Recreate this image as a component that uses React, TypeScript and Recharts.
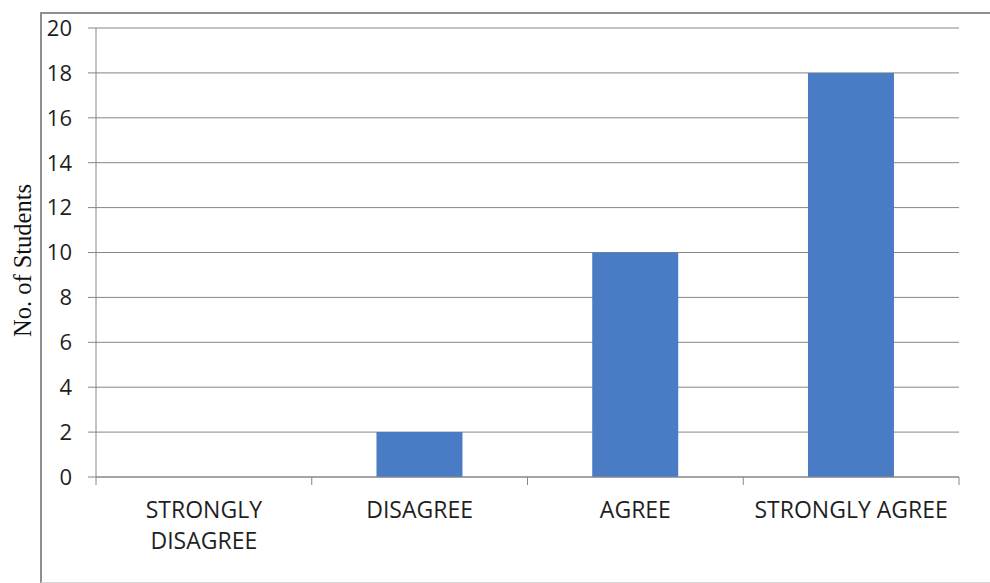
import React from 'react';
import { BarChart, Bar, XAxis, YAxis, CartesianGrid, Label } from 'recharts';

// Survey responses
const categories = ['STRONGLY DISAGREE', 'DISAGREE', 'AGREE', 'STRONGLY AGREE'];
const categoryLines = [['STRONGLY', 'DISAGREE'], ['DISAGREE'], ['AGREE'], ['STRONGLY AGREE']];
const students = [0, 2, 10, 18];
const yTicks = [0, 2, 4, 6, 8, 10, 12, 14, 16, 18, 20];

const data = categories.map((name, i) => ({ name, students: students[i] }));

const AXIS_COLOR = '#868686';
const TEXT_COLOR = '#1f1f1f';
const FONT = '"Open Sans", "Noto Sans", sans-serif';

const CategoryTick = (props: any) => {
  const { x, y, payload, index, visibleTicksCount, width } = props;
  const count = visibleTicksCount || categories.length;
  const half = payload && typeof payload.offset === 'number' && payload.offset > 0
    ? payload.offset
    : width / count / 2;
  const lines = categoryLines[index] || [String(payload.value)];
  return (
    <g>
      <line x1={x - half} x2={x - half} y1={y} y2={y + 8} stroke={AXIS_COLOR} strokeWidth={1} />
      {index === count - 1 && (
        <line x1={x + half} x2={x + half} y1={y} y2={y + 8} stroke={AXIS_COLOR} strokeWidth={1} />
      )}
      <text x={x} y={y + 41} textAnchor="middle" fill={TEXT_COLOR} fontFamily={FONT} fontSize={23}>
        {lines.map((l, i) => (
          <tspan key={i} x={x} dy={i === 0 ? 0 : 31}>{l}</tspan>
        ))}
      </text>
    </g>
  );
};

const YTitle = (props: any) => {
  const vb = props.viewBox || { x: 36, y: 28, height: 449 };
  const cx = vb.x - 14;
  const cy = vb.y + vb.height / 2 + 8;
  return (
    <text
      x={cx}
      y={cy}
      transform={`rotate(-90, ${cx}, ${cy})`}
      textAnchor="middle"
      dominantBaseline="central"
      fill="#111"
      fontFamily='"Liberation Serif", "Times New Roman", serif'
      fontSize={24.5}
    >
      No. of Students
    </text>
  );
};

export default function App() {
  return (
    <div style={{ position: 'absolute', left: 0, top: 0, width: 990, height: 583, overflow: 'hidden', background: '#fff' }}>
      <div
        style={{
          position: 'absolute',
          left: 40,
          top: 12,
          width: 980,
          height: 568,
          borderLeft: '2px solid #8f8f8f',
          borderTop: '2px solid #8f8f8f',
          borderBottom: '1px solid #d8d8d8',
        }}
      />
      <BarChart
        width={990}
        height={583}
        data={data}
        margin={{ top: 28, right: 31, left: 36, bottom: 46 }}
        barCategoryGap="30%"
        style={{ position: 'absolute', left: 0, top: 0 }}
      >
        <CartesianGrid vertical={false} stroke={AXIS_COLOR} strokeWidth={1} />
        <XAxis
          dataKey="name"
          height={60}
          axisLine={{ stroke: AXIS_COLOR, strokeWidth: 1 }}
          tickLine={false}
          tickSize={0}
          tickMargin={0}
          interval={0}
          tick={<CategoryTick />}
        />
        <YAxis
          width={60}
          domain={[0, 20]}
          ticks={yTicks}
          interval={0}
          tickSize={8}
          tickMargin={16}
          axisLine={{ stroke: AXIS_COLOR, strokeWidth: 1 }}
          tickLine={{ stroke: AXIS_COLOR, strokeWidth: 1 }}
          tick={{ fill: TEXT_COLOR, fontFamily: FONT, fontSize: 22 }}
        >
          <Label content={<YTitle />} />
        </YAxis>
        <Bar dataKey="students" fill="#4a7cc6" isAnimationActive={false} />
      </BarChart>
    </div>
  );
}
